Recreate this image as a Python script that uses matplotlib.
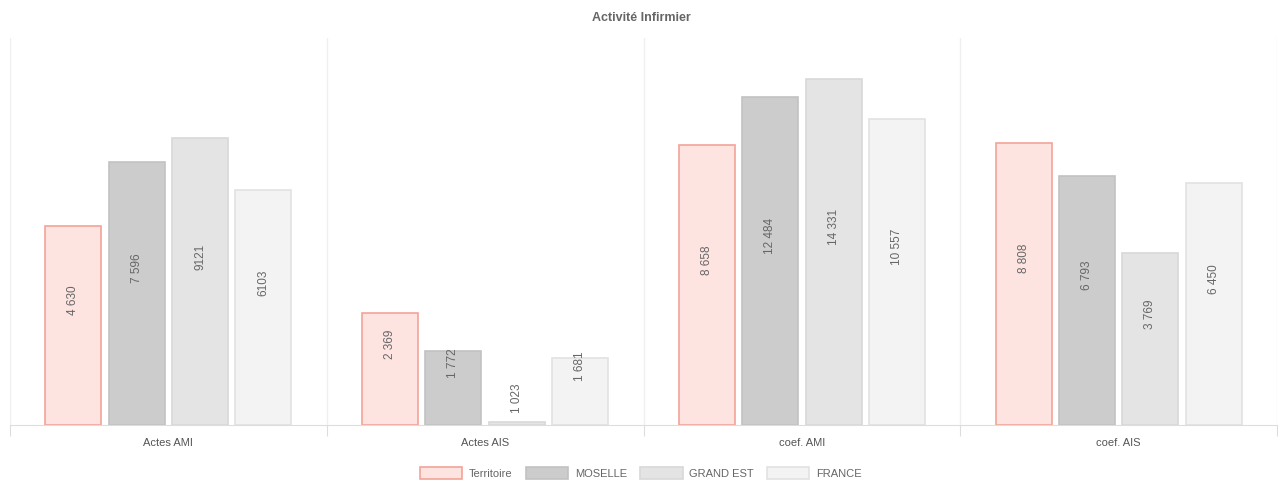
import matplotlib.pyplot as plt
import numpy as np
from matplotlib.patches import Patch

plt.rcParams['font.family'] = ['Liberation Sans', 'DejaVu Sans']

categories = ["Actes AMI", "Actes AIS", "coef. AMI", "coef. AIS"]
series = ["Territoire", "MOSELLE", "GRAND EST", "FRANCE"]
# values as displayed on the bars
territoire = ["4 630", "2 369", "8 658", "8 808"]
moselle = ["7 596", "1 772", "12 484", "6 793"]
grand_est = ["9121", "1 023", "14 331", "3 769"]
france = ["6103", "1 681", "10 557", "6 450"]

fills = ["#fde4e1", "#cccccc", "#e4e4e4", "#f3f3f3"]
edges = ["#f2a397", "#c2c2c2", "#d8d8d8", "#e2e2e2"]
text_col = "#666666"

fig = plt.figure(figsize=(12.82, 4.83), dpi=100)
ax = fig.add_axes([10 / 1282, 58 / 483, 1267 / 1282, 387 / 483])

ax.set_yscale("log")
ax.set_ylim(1000, 19700)
ax.set_xlim(0, 4)

x = np.arange(len(categories))
for k, (name, labels) in enumerate(zip(series, [territoire, moselle, grand_est, france])):
    vals = np.array([float(s.replace(" ", "")) for s in labels])
    pos = x + 0.2 + 0.2 * k
    ax.bar(pos, vals - 1000, bottom=1000, width=0.177,
           color=fills[k], edgecolor=edges[k], linewidth=1.2, label=name)
    for px, v, s in zip(pos, vals, labels):
        ax.annotate(s, xy=(px, np.sqrt(1000 * v)), xytext=(0, 18),
                    textcoords="offset points", rotation=90,
                    ha="center", va="center", fontsize=8.5, color=text_col)

# group separators
for b in range(5):
    ax.axvline(b, color="#efefef", linewidth=0.9, zorder=0)

for s in ["top", "right", "left"]:
    ax.spines[s].set_visible(False)
ax.spines["bottom"].set_color("#dddddd")
ax.set_yticks([])
ax.yaxis.set_minor_locator(plt.NullLocator())
ax.set_xticks(range(5))
ax.set_xticklabels([])
ax.tick_params(axis="x", which="major", length=8, color="#dddddd")
ax.set_xticks(x + 0.5, minor=True)
ax.set_xticklabels(categories, minor=True)
ax.tick_params(axis="x", which="minor", length=0, pad=9, labelsize=8, labelcolor="#555555")

fig.text(0.5, 0.963, "Activité Infirmier", ha="center", va="center",
         fontsize=9, fontweight="bold", color=text_col)

handles = [Patch(facecolor=fills[k], edgecolor=edges[k], linewidth=1.2) for k in range(4)]
fig.legend(handles, series, loc="center", bbox_to_anchor=(0.5, 0.02), ncol=4,
           frameon=False, fontsize=8, labelcolor=text_col, handlelength=3.8,
           handleheight=1.3, handletextpad=0.6, columnspacing=1.2)

plt.savefig("out.png", dpi=100)
